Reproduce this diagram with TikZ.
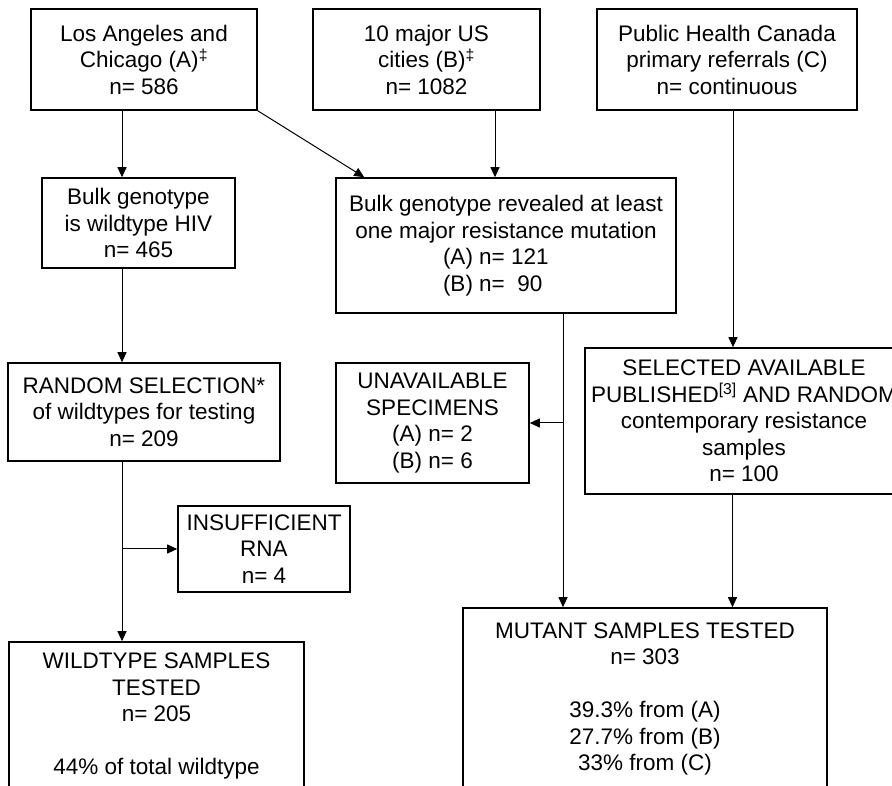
\documentclass[tikz,border=0pt]{standalone}
\usepackage{fontspec}
\setmainfont{Liberation Sans}
\usetikzlibrary{calc,arrows.meta}
\tikzset{
	box/.style={draw, line width=1.6pt, inner sep=0pt, align=center, font=\fontsize{22.5}{26.5}\selectfont},
	arr/.style={line width=1pt, -{Triangle[length=10pt,width=9pt]}},
}

\begin{document}
\begin{tikzpicture}[x=10pt, y=10pt]
		%%%%% START %%%%%
		
		\clip (0, 0) rectangle (89.2, 78.5);
		
		% sources
		\node[box, minimum width=226pt, minimum height=101pt] (srcA) at (14.4, 72.55) {Los Angeles and\\Chicago (A)\textsuperscript{‡}\\n= 586};
		\node[box, minimum width=227pt, minimum height=101pt] (srcB) at (42.65, 72.55) {10 major US\\cities (B)\textsuperscript{‡}\\n= 1082};
		\node[box, minimum width=260pt, minimum height=101pt] (srcC) at (72.7, 72.55) {Public Health Canada\\primary referrals (C)\\n= continuous};
		
		% bulk genotype
		\node[box, minimum width=193pt, minimum height=90pt] (bulkWT) at (13.85, 56.2) {Bulk genotype\\is wildtype HIV\\n= 465};
		\node[box, minimum width=340pt, minimum height=135pt] (bulkRes) at (50.6, 53.95) {Bulk genotype revealed at least\\one major resistance mutation\\\makebox[5.6em][l]{(A) n= 121}\\\makebox[5.6em][l]{(B) n= \ 90}};
		
		% selection
		\node[box, minimum width=272pt, minimum height=98pt] (randSel) at (14.4, 37.3) {RANDOM SELECTION*\\of wildtypes for testing\\n= 209};
		\node[box, minimum width=193pt, minimum height=120pt] (unavail) at (43.25, 36.2) {UNAVAILABLE\\SPECIMENS\\(A) n= 2\\(B) n= 6};
		\node[box, minimum width=318pt, minimum height=146pt] (selected) at (74.4, 36.4) {SELECTED AVAILABLE\\PUBLISHED\textsuperscript{[3]} AND RANDOM\\contemporary resistance\\samples\\n= 100};
		\node[box, minimum width=172pt, minimum height=86pt] (insuff) at (26.4, 23.6) {INSUFFICIENT\\RNA\\n= 4};
		
		% tested
		\node[box, minimum width=295pt, minimum height=148pt] (wtTested) at (15.65, 6.9) {WILDTYPE SAMPLES\\TESTED\\n= 205\\[26.5pt]44\% of total wildtype};
		\node[box, minimum width=364pt, minimum height=182pt] (mutTested) at (64.5, 8.6) {MUTANT SAMPLES TESTED\\n= 303\\[26.5pt]39.3\% from (A)\\27.7\% from (B)\\33\% from (C)};
		
		% arrows
		\draw[arr] ([xshift=-22pt]srcA.south) -- ([xshift=-22pt]srcA.south |- bulkWT.north);
		\draw[arr] (srcA.south east) -- ([xshift=29pt]bulkRes.north west);
		\draw[arr] ([xshift=68.5pt]srcB.south) -- ([xshift=68.5pt]srcB.south |- bulkRes.north);
		\draw[arr] ([xshift=6pt]srcC.south) -- ([xshift=6pt]srcC.south |- selected.north);
		
		\draw[arr] ([xshift=-16.5pt]bulkWT.south) -- ([xshift=-16.5pt]bulkWT.south |- randSel.north);
		\draw[arr] ([xshift=57pt]bulkRes.south) -- ([xshift=57pt]bulkRes.south |- mutTested.north);
		\draw[arr] ([xshift=57pt]bulkRes.south |- unavail.east) -- (unavail.east);
		
		\draw[arr] ([xshift=-22pt]randSel.south) -- ([xshift=-22pt]randSel.south |- wtTested.north);
		\draw[arr] ([xshift=-22pt]randSel.south |- insuff.west) -- (insuff.west);
		\draw[arr] ([xshift=-11.5pt]selected.south) -- ([xshift=-11.5pt]selected.south |- mutTested.north);
		
		%%%%% END %%%%%
	\end{tikzpicture}
\end{document}
